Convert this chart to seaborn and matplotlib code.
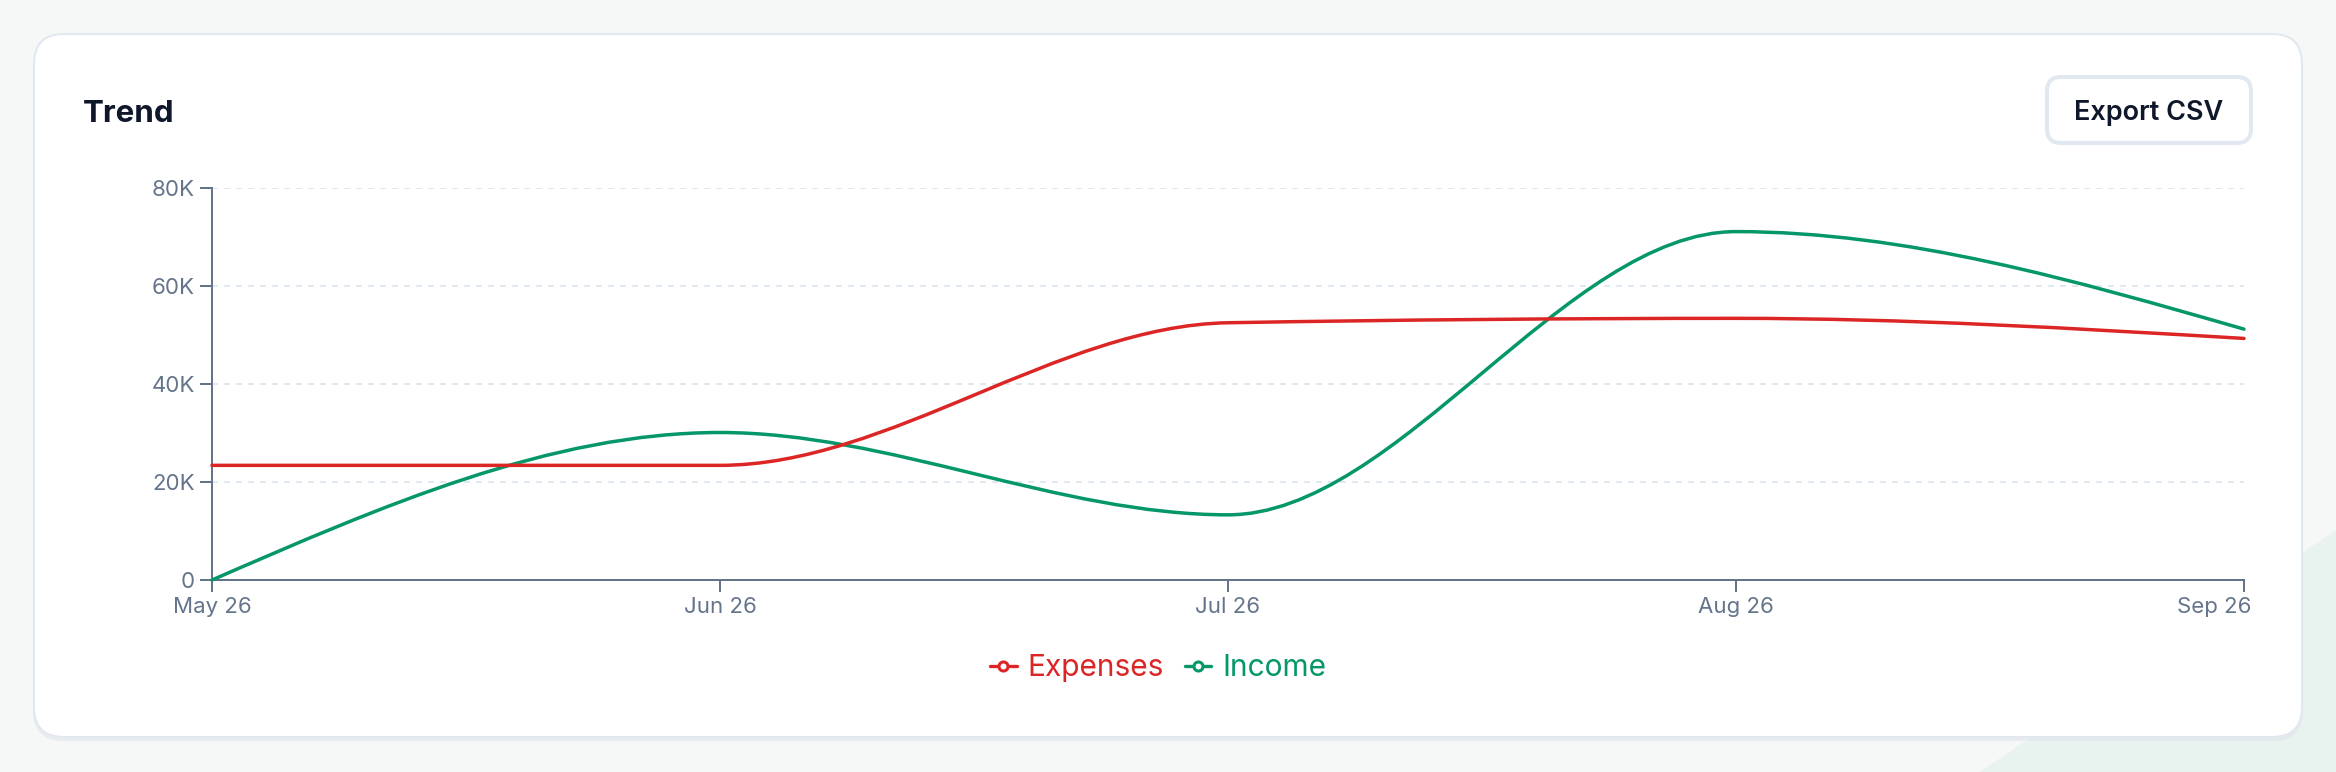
import numpy as np
import seaborn as sns
import matplotlib.pyplot as plt
from matplotlib.path import Path
from matplotlib.patches import PathPatch, FancyBboxPatch, Polygon
from matplotlib.lines import Line2D
from matplotlib.ticker import FuncFormatter
from matplotlib.transforms import ScaledTranslation

# datos
months = ["May 26", "Jun 26", "Jul 26", "Aug 26", "Sep 26"]
expenses = [23400, 23400, 52500, 53400, 49300]
income = [0, 30100, 13300, 71100, 51200]
series_names = ["Expenses", "Income"]
y_ticks = [0, 20000, 40000, 60000, 80000]

RED = "#dc2626"
GREEN = "#059669"
SLATE = "#64748b"
GRID = "#e2e8f0"
INK = "#0f172a"

sns.set_theme(style="white")
plt.rcParams["font.family"] = ["Inter", "DejaVu Sans"]


def monotone_path(xs, ys):
    # curva monotona (tipo d3 curveMonotoneX) como segmentos bezier
    xs = np.asarray(xs, dtype=float)
    ys = np.asarray(ys, dtype=float)
    n = len(xs)
    h = np.diff(xs)
    s = np.diff(ys) / h
    t = np.zeros(n)
    for i in range(1, n - 1):
        p = (s[i - 1] * h[i] + s[i] * h[i - 1]) / (h[i - 1] + h[i])
        t[i] = (np.sign(s[i - 1]) + np.sign(s[i])) * min(abs(s[i - 1]), abs(s[i]), 0.5 * abs(p))
    t[0] = (3 * s[0] - t[1]) / 2
    t[-1] = (3 * s[-1] - t[-2]) / 2
    verts = [(xs[0], ys[0])]
    codes = [Path.MOVETO]
    for i in range(n - 1):
        d = h[i] / 3
        verts += [(xs[i] + d, ys[i] + d * t[i]),
                  (xs[i + 1] - d, ys[i + 1] - d * t[i + 1]),
                  (xs[i + 1], ys[i + 1])]
        codes += [Path.CURVE4] * 3
    return Path(verts, codes)


fig = plt.figure(figsize=(23.36, 7.72), dpi=100)
fig.patch.set_facecolor("#f6f8f8")

# fondo y tarjeta en coordenadas de pixel
bg = fig.add_axes([0, 0, 1, 1], zorder=0)
bg.set_xlim(0, 2336)
bg.set_ylim(772, 0)
bg.axis("off")
bg.add_patch(Polygon([(1980, 772), (2336, 530), (2336, 772)], closed=True,
                     fc="#e8f2ee", ec="none"))
bg.add_patch(FancyBboxPatch((33, 36), 2270, 705, boxstyle="round,pad=0,rounding_size=30",
                            fc="#e3e7ec", ec="none", alpha=0.7))
bg.add_patch(FancyBboxPatch((34, 34), 2268, 703, boxstyle="round,pad=0,rounding_size=30",
                            fc="white", ec="#e2e8f0", lw=1.5))
bg.add_patch(FancyBboxPatch((2047, 77), 204, 66, boxstyle="round,pad=0,rounding_size=14",
                            fc="white", ec="#e2e8f0", lw=2.9))
bg.text(83, 122.5, "Trend", fontsize=22.5, fontweight="bold", color=INK, va="baseline")
bg.text(2149, 120, "Export CSV", fontsize=19.5, fontweight="semibold", color=INK,
        ha="center", va="baseline")

# grafico principal
ax = fig.add_axes([0.09075, 0.2487, 0.86986, 0.50777], zorder=2)
ax.set_facecolor("none")
x = np.arange(len(months))
palette = sns.color_palette([RED, GREEN])

for vals, color, z in [(income, palette[1], 3), (expenses, palette[0], 4)]:
    ax.add_patch(PathPatch(monotone_path(x, vals), fill=False, edgecolor=color,
                           lw=2.5, capstyle="round", joinstyle="round", zorder=z, clip_on=False))

ax.set_xlim(0, len(months) - 1)
ax.set_ylim(0, 80000)
ax.set_xticks(x)
ax.set_xticklabels(months)
ax.set_yticks(y_ticks)
ax.yaxis.set_major_formatter(FuncFormatter(lambda v, _: "0" if v == 0 else f"{int(v / 1000)}K"))

sns.despine(ax=ax)
for side in ["left", "bottom"]:
    ax.spines[side].set_color(SLATE)
    ax.spines[side].set_linewidth(1.44)
ax.tick_params(axis="both", length=8.6, width=1.44, color=SLATE, labelcolor=SLATE,
               labelsize=16, pad=3.6, left=True, bottom=True)
ax.yaxis.grid(True, color=GRID, linestyle=(0, (3, 3)), linewidth=1.44)
ax.xaxis.grid(False)
ax.set_axisbelow(True)

# la ultima etiqueta se corre a la izquierda como en el original
last = ax.get_xticklabels()[-1]
last.set_transform(last.get_transform() + ScaledTranslation(-0.30, 0, fig.dpi_scale_trans))

handles = [Line2D([], [], color=c, lw=2.4, marker="o", markersize=6.5,
                  markerfacecolor="white", markeredgewidth=2.2) for c in palette]
leg = fig.legend(handles, series_names, loc="center", bbox_to_anchor=(0.4957, 0.1347),
                 ncol=2, frameon=False, fontsize=21.5, handlelength=0.9,
                 handletextpad=0.35, columnspacing=0.7)
for txt, c in zip(leg.get_texts(), palette):
    txt.set_color(c)

fig.savefig("out.png", dpi=100, facecolor=fig.get_facecolor())
